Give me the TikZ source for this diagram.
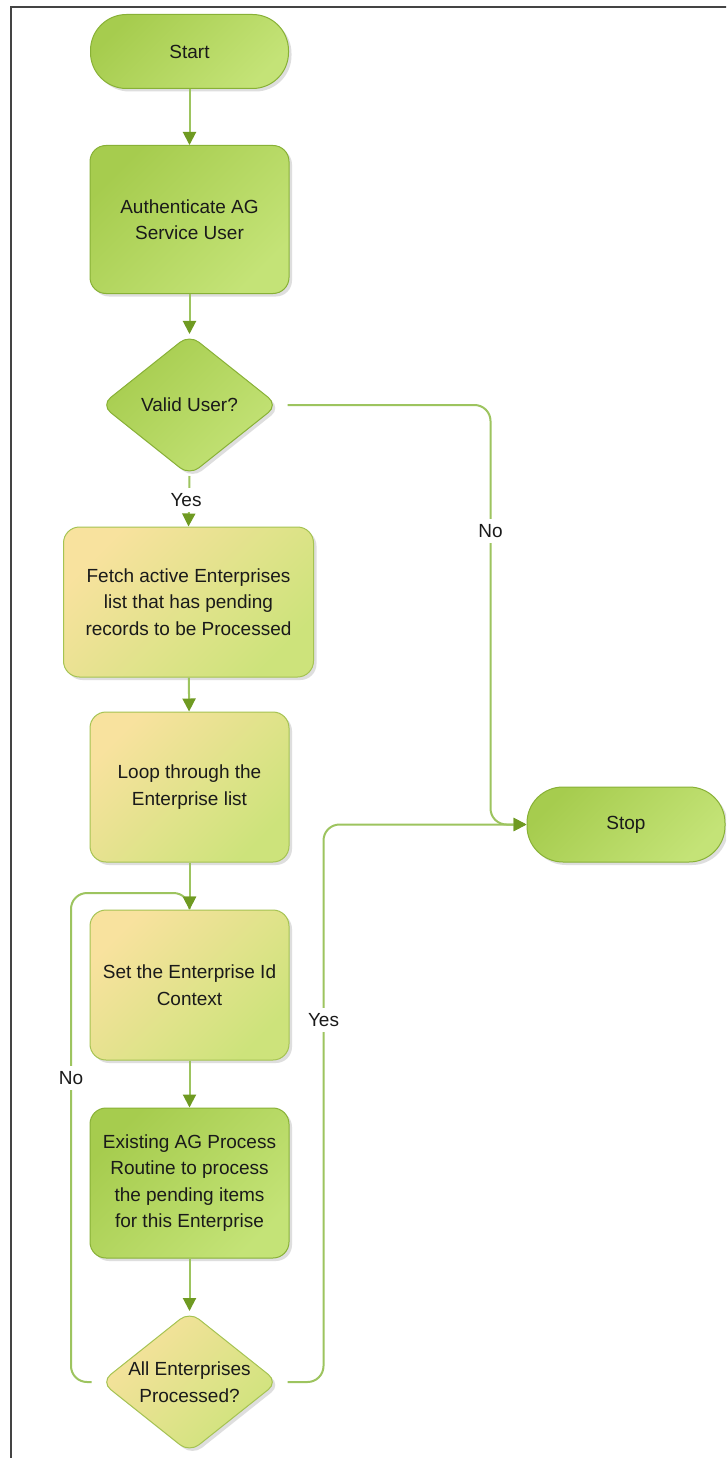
\documentclass[tikz,border=0pt]{standalone}
\usepackage{fontspec}
\setmainfont{Liberation Sans}
\usetikzlibrary{shapes.geometric,arrows.meta,shadows}
\definecolor{gA}{HTML}{A6CC4E}
\definecolor{gB}{HTML}{C4E377}
\definecolor{gE}{HTML}{88B136}
\definecolor{yA}{HTML}{F8E29E}
\definecolor{yB}{HTML}{CDE37B}
\definecolor{yE}{HTML}{A5C352}
\definecolor{lnc}{HTML}{9DC45F}
\definecolor{tipc}{HTML}{6F9A22}
\definecolor{txtc}{HTML}{1A1A1A}
\definecolor{framec}{HTML}{444444}
\begin{document}
\begin{tikzpicture}[x=1pt,y=-1pt,
  fnt/.style={font=\fontsize{19}{26.5}\selectfont, text=txtc, align=center},
  shad/.style={drop shadow={shadow xshift=3pt, shadow yshift=-3pt, opacity=0.28, fill=black!45}},
  gfill/.style={top color=gA, bottom color=gB, shading angle=45, draw=gE},
  yfill/.style={top color=yA, bottom color=yB, shading angle=45, draw=yE},
  term/.style={rectangle, rounded corners=36pt, minimum width=198pt, minimum height=74pt, line width=1pt, shad, fnt},
  procbox/.style={rectangle, rounded corners=16pt, minimum width=199pt, minimum height=148pt, line width=1pt, shad, fnt},
  decbox/.style={diamond, rounded corners=12pt, minimum width=177pt, minimum height=141pt, inner sep=0pt, line width=1pt, shad},
  dtext/.style={fnt},
  conn/.style={draw=lnc, line width=2pt, -{Triangle[length=13pt,width=13pt,fill=tipc,color=tipc]}},
  lab/.style={fnt, fill=white, inner sep=5pt}
]
\useasboundingbox (0,0) rectangle (726,1458);
\clip (0,0) rectangle (726,1458);
\fill[white] (0,0) rectangle (726,1458);
\draw[framec, line width=2pt] (11,1500) -- (11,7) -- (800,7);

% nodes
\node[term, gfill] (start) at (189.5,51.5) {Start};
\node[procbox, gfill] (auth) at (189.5,219.5) {Authenticate AG\\Service User};
\node[decbox, gfill] (valid) at (189.5,405) {};
\node[dtext] (validtxt) at (valid) {Valid User?};
\node[procbox, yfill, minimum width=250pt, minimum height=150pt] (fetch) at (188.5,602) {Fetch active Enterprises\\list that has pending\\records to be Processed};
\node[procbox, yfill, minimum height=150pt] (loop) at (189.5,787) {Loop through the\\Enterprise list};
\node[procbox, yfill, minimum height=150pt] (set) at (189.5,985) {Set the Enterprise Id\\Context};
\node[procbox, gfill, minimum height=150pt] (exist) at (189.5,1183) {Existing AG Process\\Routine to process\\the pending items\\for this Enterprise};
\node[decbox, yfill] (done) at (189.5,1382) {};
\node[dtext] (donetxt) at (done) {All Enterprises\\Processed?};
\node[term, gfill, minimum height=75pt] (stop) at (626,824.5) {Stop};

\coordinate (noV) at (490.5,824.5);
\coordinate (yesV) at (323.5,824.5);
\coordinate (noL) at (71,893);

% connectors
\draw[conn] (start) -- (auth);
\draw[conn] (auth) -- (valid);
\draw[conn] (valid.south) -- (fetch.north);
\draw[conn, rounded corners=16pt] ([xshift=9pt]valid.east) -| (noV) -- (stop.west);
\draw[conn] (fetch) -- (loop);
\draw[conn] (loop) -- (set);
\draw[conn] (set) -- (exist);
\draw[conn] (exist) -- (done);
\draw[conn, rounded corners=16pt] ([xshift=9pt]done.east) -| (yesV) -- (stop.west);
\draw[conn, rounded corners=16pt] ([xshift=-9pt]done.west) -| (noL) -| (set.north);

% labels
\node[lab] (yes1) at (186,500) {Yes};
\node[lab] (no1) at (490.5,531) {No};
\node[lab] (yes2) at (323.5,1020) {Yes};
\node[lab] (no2) at (71,1078) {No};
\end{tikzpicture}
\end{document}
